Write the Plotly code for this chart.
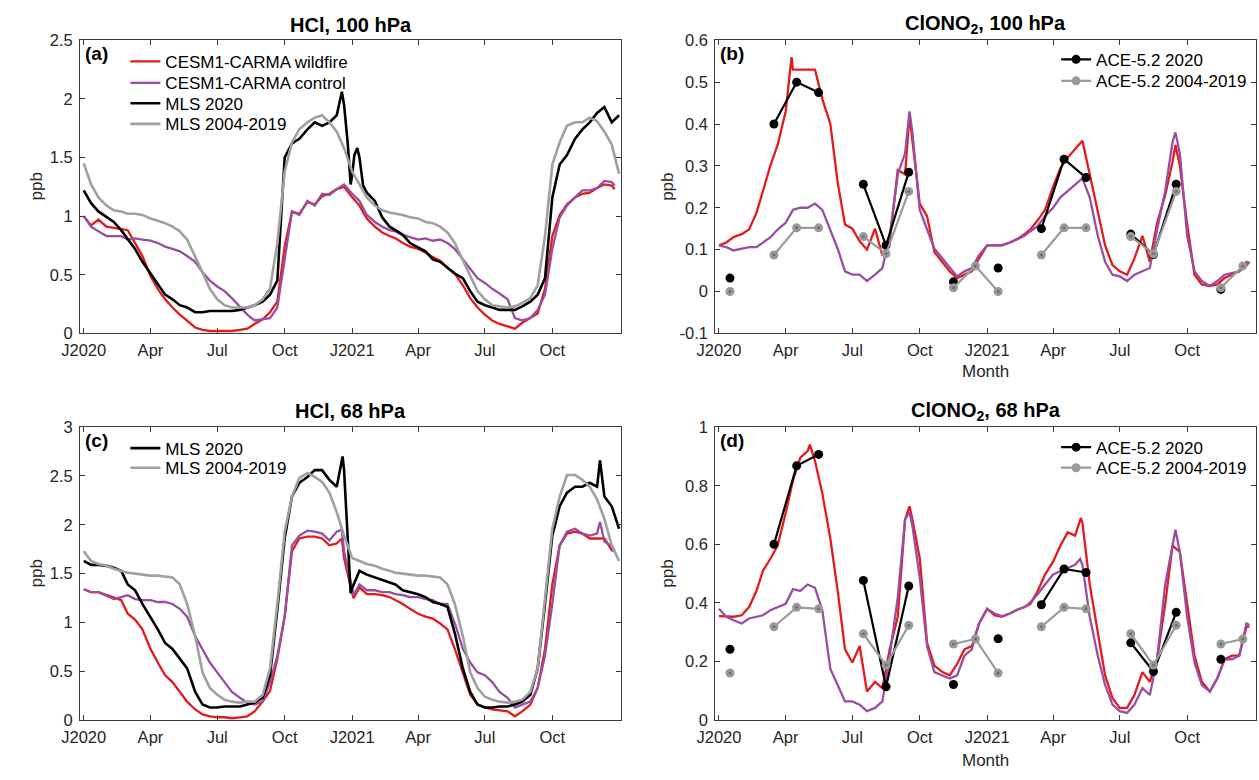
import plotly.graph_objects as go

W, H = 1259, 780

# Sampling dates: 1st, 11th and 21st of every month, 2020-2021
GRID = [f"{y}-{m:02d}-{d:02d}" for y in (2020, 2021) for m in range(1, 13) for d in (1, 11, 21)]
MODEL_DATES = GRID + ["2021-12-25"]
MLS_DATES = GRID + ["2021-12-31"]
ACE_DATES = [f"{y}-{m:02d}-16" for y in (2020, 2021) for m in range(1, 13)]

TICK_DATES = ["2020-01-01", "2020-04-01", "2020-07-01", "2020-10-01",
              "2021-01-01", "2021-04-01", "2021-07-01", "2021-10-01"]
TICK_TEXT = ["J2020", "Apr", "Jul", "Oct", "J2021", "Apr", "Jul", "Oct"]

# ---------------- HCl, 100 hPa (ppb) ----------------
HCL100_WILDFIRE = [
    1.00, 0.92, 0.97, 0.91, 0.90, 0.89, 0.88, 0.77, 0.66, 0.49, 0.38, 0.29,
    0.22, 0.16, 0.11, 0.05, 0.03, 0.02, 0.02, 0.02, 0.02, 0.03, 0.04, 0.08,
    0.12, 0.18, 0.27, 0.74, 1.04, 1.02, 1.12, 1.10, 1.17, 1.19, 1.23, 1.25,
    1.16, 1.09, 0.98, 0.91, 0.86, 0.83, 0.81, 0.77, 0.74, 0.72, 0.69, 0.65,
    0.62, 0.56, 0.51, 0.41, 0.30, 0.22, 0.16, 0.11, 0.08, 0.06, 0.04, 0.09,
    0.13, 0.17, 0.38, 0.83, 1.01, 1.10, 1.16, 1.19, 1.20, 1.24, 1.27, 1.26,
    1.23]
HCL100_CONTROL = [
    1.00, 0.91, 0.87, 0.83, 0.83, 0.83, 0.80, 0.81, 0.80, 0.79, 0.77, 0.74,
    0.72, 0.70, 0.66, 0.61, 0.52, 0.45, 0.40, 0.36, 0.30, 0.23, 0.16, 0.11,
    0.12, 0.13, 0.22, 0.61, 1.04, 1.01, 1.13, 1.09, 1.19, 1.18, 1.23, 1.27,
    1.19, 1.13, 1.01, 0.95, 0.91, 0.88, 0.87, 0.84, 0.82, 0.80, 0.81, 0.79,
    0.80, 0.77, 0.72, 0.63, 0.55, 0.47, 0.43, 0.38, 0.34, 0.29, 0.13, 0.11,
    0.13, 0.20, 0.33, 0.72, 0.99, 1.09, 1.16, 1.22, 1.22, 1.24, 1.30, 1.29,
    1.26]
HCL100_MLS2020 = [
    1.22, 1.11, 1.04, 0.99, 0.95, 0.88, 0.80, 0.72, 0.61, 0.51, 0.41, 0.33,
    0.29, 0.24, 0.22, 0.18, 0.18, 0.19, 0.19, 0.19, 0.19, 0.20, 0.22, 0.24,
    0.27, 0.33, 0.45, 1.50, 1.62, 1.66, 1.74, 1.80, 1.77, 1.80, 1.86, 1.95,
    1.35, 1.50, 1.20, 1.13, 0.99, 0.91, 0.88, 0.84, 0.77, 0.73, 0.70, 0.63,
    0.61, 0.56, 0.51, 0.47, 0.36, 0.27, 0.24, 0.22, 0.20, 0.20, 0.20, 0.23,
    0.27, 0.33, 0.47, 1.16, 1.44, 1.52, 1.66, 1.74, 1.80, 1.88, 1.93, 1.80,
    1.86]
HCL100_MLS2020_EXTRA = {"2020-12-18": 2.06, "2020-12-26": 1.62, "2020-12-30": 1.27,
                        "2021-01-04": 1.52, "2021-01-08": 1.58, "2021-01-16": 1.26}
HCL100_MLSCLIM = [
    1.45, 1.27, 1.16, 1.09, 1.05, 1.04, 1.02, 1.02, 1.01, 0.98, 0.96, 0.94,
    0.91, 0.87, 0.80, 0.66, 0.52, 0.38, 0.29, 0.24, 0.22, 0.22, 0.22, 0.24,
    0.29, 0.38, 0.77, 1.38, 1.63, 1.74, 1.80, 1.84, 1.86, 1.80, 1.72, 1.58,
    1.38, 1.27, 1.16, 1.09, 1.05, 1.03, 1.02, 1.01, 0.99, 0.98, 0.95, 0.94,
    0.91, 0.86, 0.77, 0.63, 0.49, 0.36, 0.29, 0.24, 0.23, 0.22, 0.23, 0.26,
    0.30, 0.41, 0.83, 1.44, 1.63, 1.77, 1.80, 1.80, 1.84, 1.81, 1.72, 1.61,
    1.36]

# ---------------- ClONO2, 100 hPa (ppb) ----------------
CLONO2_100_WILDFIRE = [
    0.110, 0.117, 0.130, 0.137, 0.148, 0.187, 0.240, 0.300, 0.350, 0.430, 0.530, 0.530,
    0.530, 0.530, 0.460, 0.400, 0.260, 0.160, 0.150, 0.120, 0.100, 0.150, 0.086, 0.120,
    0.290, 0.280, 0.360, 0.210, 0.180, 0.094, 0.070, 0.048, 0.032, 0.040, 0.048, 0.079,
    0.110, 0.110, 0.110, 0.117, 0.125, 0.137, 0.148, 0.170, 0.195, 0.250, 0.295, 0.320,
    0.340, 0.360, 0.280, 0.195, 0.110, 0.063, 0.048, 0.040, 0.079, 0.133, 0.071, 0.164,
    0.230, 0.310, 0.300, 0.160, 0.040, 0.017, 0.013, 0.017, 0.032, 0.040, 0.048, 0.063,
    0.071]
CLONO2_100_WILDFIRE_EXTRA = {"2020-04-09": 0.56, "2020-09-17": 0.42, "2021-09-15": 0.35}
CLONO2_100_CONTROL = [
    0.110, 0.106, 0.098, 0.102, 0.106, 0.106, 0.117, 0.129, 0.148, 0.164, 0.195, 0.200,
    0.200, 0.210, 0.195, 0.148, 0.102, 0.048, 0.040, 0.040, 0.025, 0.040, 0.056, 0.133,
    0.280, 0.330, 0.380, 0.195, 0.148, 0.102, 0.079, 0.056, 0.036, 0.048, 0.056, 0.087,
    0.110, 0.110, 0.110, 0.117, 0.125, 0.133, 0.144, 0.156, 0.180, 0.200, 0.225, 0.240,
    0.256, 0.270, 0.225, 0.133, 0.071, 0.040, 0.036, 0.025, 0.040, 0.048, 0.056, 0.148,
    0.240, 0.357, 0.330, 0.133, 0.048, 0.025, 0.013, 0.025, 0.040, 0.044, 0.048, 0.071,
    0.067]
CLONO2_100_CONTROL_EXTRA = {"2020-09-17": 0.43, "2021-09-15": 0.38}
CLONO2_100_ACE2020 = [0.032, None, 0.400, 0.500, 0.475, None, 0.256, 0.110, 0.285, None, 0.023, None,
                      0.056, None, 0.150, 0.316, 0.272, None, 0.137, 0.088, 0.256, None, 0.005, None]
CLONO2_100_ACECLIM = [0.000, None, 0.087, 0.152, 0.152, None, 0.131, 0.090, 0.239, None, 0.009, 0.061,
                      0.000, None, 0.087, 0.152, 0.152, None, 0.131, 0.090, 0.239, None, 0.009, 0.061]

# ---------------- HCl, 68 hPa (ppb) ----------------
HCL68_WILDFIRE = [
    1.34, 1.31, 1.31, 1.28, 1.26, 1.23, 1.09, 1.03, 0.93, 0.73, 0.59, 0.46,
    0.39, 0.29, 0.19, 0.11, 0.06, 0.04, 0.03, 0.03, 0.02, 0.03, 0.04, 0.09,
    0.19, 0.30, 0.63, 1.06, 1.73, 1.86, 1.88, 1.88, 1.86, 1.79, 1.81, 1.66,
    1.30, 1.36, 1.29, 1.29, 1.28, 1.26, 1.23, 1.19, 1.14, 1.09, 1.06, 1.04,
    0.99, 0.93, 0.73, 0.49, 0.26, 0.16, 0.13, 0.11, 0.10, 0.09, 0.04, 0.09,
    0.16, 0.33, 0.73, 1.39, 1.79, 1.91, 1.93, 1.91, 1.86, 1.86, 1.86, 1.74,
    1.73]
HCL68_WILDFIRE_EXTRA = {"2020-12-18": 1.86, "2021-01-03": 1.25}
HCL68_CONTROL = [
    1.34, 1.31, 1.31, 1.27, 1.24, 1.26, 1.28, 1.24, 1.23, 1.23, 1.21, 1.21,
    1.19, 1.14, 1.06, 0.86, 0.73, 0.59, 0.49, 0.39, 0.29, 0.23, 0.18, 0.16,
    0.19, 0.39, 0.66, 1.06, 1.79, 1.89, 1.94, 1.93, 1.91, 1.84, 1.93, 1.73,
    1.35, 1.39, 1.33, 1.33, 1.31, 1.31, 1.29, 1.28, 1.26, 1.26, 1.24, 1.23,
    1.19, 1.19, 0.99, 0.73, 0.59, 0.49, 0.46, 0.39, 0.29, 0.23, 0.13, 0.16,
    0.19, 0.33, 0.66, 1.19, 1.79, 1.93, 1.96, 1.91, 1.89, 1.91, 1.83, 1.78,
    1.74]
HCL68_CONTROL_EXTRA = {"2020-12-18": 1.95, "2021-01-03": 1.28, "2021-12-05": 2.03}
HCL68_MLS2020 = [
    1.63, 1.59, 1.59, 1.58, 1.56, 1.53, 1.39, 1.33, 1.19, 1.06, 0.93, 0.79,
    0.73, 0.63, 0.53, 0.29, 0.16, 0.13, 0.13, 0.14, 0.14, 0.14, 0.16, 0.18,
    0.23, 0.46, 1.13, 1.86, 2.29, 2.43, 2.49, 2.56, 2.56, 2.46, 2.39, 2.56,
    1.35, 1.53, 1.49, 1.46, 1.44, 1.41, 1.39, 1.33, 1.31, 1.29, 1.26, 1.21,
    1.19, 1.16, 0.89, 0.53, 0.29, 0.16, 0.13, 0.13, 0.14, 0.14, 0.16, 0.19,
    0.26, 0.53, 1.19, 1.89, 2.19, 2.33, 2.39, 2.39, 2.43, 2.39, 2.29, 2.19,
    1.96]
HCL68_MLS2020_EXTRA = {"2020-12-19": 2.70, "2020-12-25": 1.95, "2020-12-30": 1.30,
                       "2021-12-05": 2.66}
HCL68_MLSCLIM = [
    1.73, 1.63, 1.60, 1.58, 1.55, 1.53, 1.51, 1.50, 1.49, 1.48, 1.48, 1.47,
    1.46, 1.39, 1.19, 0.86, 0.49, 0.33, 0.26, 0.21, 0.19, 0.18, 0.19, 0.19,
    0.26, 0.53, 1.19, 1.93, 2.29, 2.48, 2.53, 2.49, 2.44, 2.33, 2.13, 1.89,
    1.66, 1.63, 1.60, 1.58, 1.55, 1.53, 1.51, 1.50, 1.49, 1.48, 1.48, 1.47,
    1.46, 1.39, 1.19, 0.86, 0.49, 0.33, 0.24, 0.21, 0.19, 0.18, 0.19, 0.21,
    0.29, 0.53, 1.23, 1.96, 2.29, 2.51, 2.51, 2.46, 2.39, 2.26, 2.06, 1.79,
    1.63]

# ---------------- ClONO2, 68 hPa (ppb) ----------------
CLONO2_68_WILDFIRE = [
    0.355, 0.355, 0.353, 0.358, 0.386, 0.440, 0.510, 0.550, 0.596, 0.707, 0.818, 0.896,
    0.918, 0.885, 0.774, 0.619, 0.441, 0.242, 0.197, 0.253, 0.098, 0.131, 0.109, 0.242,
    0.353, 0.685, 0.685, 0.552, 0.264, 0.186, 0.164, 0.153, 0.192, 0.242, 0.253, 0.330,
    0.380, 0.358, 0.353, 0.364, 0.377, 0.386, 0.397, 0.441, 0.497, 0.541, 0.596, 0.641,
    0.630, 0.674, 0.463, 0.297, 0.153, 0.075, 0.042, 0.042, 0.086, 0.164, 0.131, 0.208,
    0.397, 0.596, 0.574, 0.397, 0.220, 0.131, 0.098, 0.142, 0.208, 0.220, 0.220, 0.319,
    0.319]
CLONO2_68_WILDFIRE_EXTRA = {"2020-05-04": 0.94, "2020-09-17": 0.73, "2021-05-09": 0.69}
CLONO2_68_CONTROL = [
    0.380, 0.353, 0.341, 0.330, 0.347, 0.353, 0.358, 0.375, 0.386, 0.397, 0.447, 0.441,
    0.463, 0.452, 0.375, 0.175, 0.120, 0.064, 0.064, 0.053, 0.031, 0.042, 0.064, 0.220,
    0.419, 0.685, 0.663, 0.486, 0.253, 0.164, 0.153, 0.142, 0.153, 0.220, 0.242, 0.330,
    0.380, 0.364, 0.355, 0.364, 0.377, 0.386, 0.402, 0.430, 0.463, 0.497, 0.508, 0.519,
    0.530, 0.530, 0.353, 0.220, 0.120, 0.053, 0.031, 0.025, 0.053, 0.109, 0.086, 0.208,
    0.463, 0.596, 0.574, 0.353, 0.197, 0.120, 0.098, 0.142, 0.208, 0.208, 0.220, 0.330,
    0.325]
CLONO2_68_CONTROL_EXTRA = {"2020-09-17": 0.71, "2021-05-08": 0.55, "2021-09-15": 0.65}
CLONO2_68_ACE2020 = [0.242, None, 0.600, 0.868, 0.907, None, 0.477, 0.114, 0.458, None, 0.122, None,
                     0.278, None, 0.394, 0.516, 0.504, None, 0.264, 0.166, 0.368, None, 0.208, None]
CLONO2_68_ACECLIM = [0.161, None, 0.319, 0.385, 0.380, None, 0.295, 0.188, 0.324, None, 0.260, 0.277,
                     0.161, None, 0.319, 0.385, 0.380, None, 0.295, 0.188, 0.324, None, 0.260, 0.277]

# ---------------- styling ----------------
FONT = "Liberation Sans, Arial, Helvetica, sans-serif"
RED, PURPLE, BLACK, GREY, ACE_GREY = "#E41A1C", "#984EA3", "#000000", "#A0A0A0", "#9A9A9A"
AXC = "#3a3a3a"
TXT = "#262626"
TICK_SIZE, LEGEND_SIZE, TITLE_SIZE, LABEL_SIZE = 16.5, 17, 20, 17
MODEL_W, MLS_W, ACE_W = 2.3, 2.6, 2.2


def px(x):
    return x / W


def py(y):
    return 1 - y / H


def merge(dates, values, extra=None):
    pts = list(zip(dates, values)) + list((extra or {}).items())
    pts.sort(key=lambda p: p[0])
    return [p[0] for p in pts], [p[1] for p in pts]


# axes frames in pixels: left, right, top, bottom
FRAMES = {
    "a": (62, 611.5, 32, 332),
    "b": (707, 1256, 32, 332),
    "c": (62, 611.5, 428, 728),
    "d": (707, 1256, 428, 728),
}
AX_ID = {"a": ("x", "y"), "b": ("x2", "y2"), "c": ("x3", "y3"), "d": ("x4", "y4")}

# one legend box per entry so each row sits at its own height (x of box, y of row centre)
LEGEND_POS = {
    "legend": (108, 54), "legend2": (108, 76), "legend3": (108, 97), "legend4": (108, 118),
    "legend5": (108, 450), "legend6": (108, 470),
    "legend7": (1053, 52), "legend8": (1053, 74),
    "legend9": (1053, 449), "legend10": (1053, 470),
}

fig = go.Figure()


def line(panel, dates, vals, color, name, legend=None, width=MODEL_W, extra=None):
    xs, ys = merge(dates, vals, extra)
    xa, ya = AX_ID[panel]
    fig.add_trace(go.Scatter(
        x=xs, y=ys, mode="lines", name=name, xaxis=xa, yaxis=ya,
        line=dict(color=color, width=width),
        showlegend=legend is not None, legend=legend or "legend",
        hoverinfo="skip"))


def ace(panel, vals, color, name, legend):
    xa, ya = AX_ID[panel]
    fig.add_trace(go.Scatter(
        x=ACE_DATES, y=vals, mode="lines+markers", name=name, xaxis=xa, yaxis=ya,
        line=dict(color=color, width=ACE_W), marker=dict(color=color, size=9),
        connectgaps=False, legend=legend, hoverinfo="skip"))


def ace_centres(panel, vals):
    xa, ya = AX_ID[panel]
    fig.add_trace(go.Scatter(
        x=ACE_DATES, y=vals, mode="markers", xaxis=xa, yaxis=ya,
        marker=dict(color="#6e6e6e", size=3), showlegend=False, hoverinfo="skip"))


# (a) HCl 100 hPa
line("a", MODEL_DATES, HCL100_WILDFIRE, RED, "CESM1-CARMA wildfire", "legend")
line("a", MODEL_DATES, HCL100_CONTROL, PURPLE, "CESM1-CARMA control", "legend2")
line("a", MLS_DATES, HCL100_MLS2020, BLACK, "MLS 2020", "legend3", MLS_W, HCL100_MLS2020_EXTRA)
line("a", MLS_DATES, HCL100_MLSCLIM, GREY, "MLS 2004-2019", "legend4", MLS_W)

# (b) ClONO2 100 hPa
line("b", MODEL_DATES, CLONO2_100_WILDFIRE, RED, "CESM1-CARMA wildfire", extra=CLONO2_100_WILDFIRE_EXTRA)
line("b", MODEL_DATES, CLONO2_100_CONTROL, PURPLE, "CESM1-CARMA control", extra=CLONO2_100_CONTROL_EXTRA)
ace("b", CLONO2_100_ACE2020, BLACK, "ACE-5.2 2020", "legend7")
ace("b", CLONO2_100_ACECLIM, ACE_GREY, "ACE-5.2 2004-2019", "legend8")
ace_centres("b", CLONO2_100_ACECLIM)

# (c) HCl 68 hPa
line("c", MODEL_DATES, HCL68_WILDFIRE, RED, "CESM1-CARMA wildfire", extra=HCL68_WILDFIRE_EXTRA)
line("c", MODEL_DATES, HCL68_CONTROL, PURPLE, "CESM1-CARMA control", extra=HCL68_CONTROL_EXTRA)
line("c", MLS_DATES, HCL68_MLS2020, BLACK, "MLS 2020", "legend5", MLS_W, HCL68_MLS2020_EXTRA)
line("c", MLS_DATES, HCL68_MLSCLIM, GREY, "MLS 2004-2019", "legend6", MLS_W)

# (d) ClONO2 68 hPa
line("d", MODEL_DATES, CLONO2_68_WILDFIRE, RED, "CESM1-CARMA wildfire", extra=CLONO2_68_WILDFIRE_EXTRA)
line("d", MODEL_DATES, CLONO2_68_CONTROL, PURPLE, "CESM1-CARMA control", extra=CLONO2_68_CONTROL_EXTRA)
ace("d", CLONO2_68_ACE2020, BLACK, "ACE-5.2 2020", "legend9")
ace("d", CLONO2_68_ACECLIM, ACE_GREY, "ACE-5.2 2004-2019", "legend10")
ace_centres("d", CLONO2_68_ACECLIM)

TICKFONT = dict(family=FONT, size=TICK_SIZE, color=TXT)

Y_TICKS = {
    "a": ([0, 0.5, 1, 1.5, 2, 2.5], ["0", "0.5", "1", "1.5", "2", "2.5"], [0, 2.5]),
    "b": ([-0.1, 0, 0.1, 0.2, 0.3, 0.4, 0.5, 0.6],
          ["-0.1", "0", "0.1", "0.2", "0.3", "0.4", "0.5", "0.6"], [-0.1, 0.6]),
    "c": ([0, 0.5, 1, 1.5, 2, 2.5, 3], ["0", "0.5", "1", "1.5", "2", "2.5", "3"], [0, 3]),
    "d": ([0, 0.2, 0.4, 0.6, 0.8, 1], ["0", "0.2", "0.4", "0.6", "0.8", "1"], [0, 1]),
}

layout_axes = {}
for p, (l, r, t, b) in FRAMES.items():
    xa, ya = AX_ID[p]
    xkey = "xaxis" if xa == "x" else "xaxis" + xa[1:]
    ykey = "yaxis" if ya == "y" else "yaxis" + ya[1:]
    common = dict(showline=True, linecolor=AXC, linewidth=1, mirror="ticks",
                  ticks="inside", ticklen=5, tickwidth=1, tickcolor=AXC,
                  showgrid=False, zeroline=False, tickfont=TICKFONT)
    layout_axes[xkey] = dict(common, domain=[px(l), px(r)], anchor=ya, type="date",
                             range=["2019-12-27", "2022-01-03"],
                             tickmode="array", tickvals=TICK_DATES, ticktext=TICK_TEXT,
                             ticklabelstandoff=2)
    tv, tt, rng = Y_TICKS[p]
    layout_axes[ykey] = dict(common, domain=[py(b), py(t)], anchor=xa, range=rng,
                             tickmode="array", tickvals=tv, ticktext=tt,
                             ticklabelstandoff=3)

annotations = []


def text(x, y, s, size=16, bold=False, angle=0, xanchor="center"):
    annotations.append(dict(
        x=px(x), y=py(y), xref="paper", yref="paper", text=f"<b>{s}</b>" if bold else s,
        showarrow=False, textangle=angle, xanchor=xanchor, yanchor="middle",
        font=dict(family=FONT, size=size, color="#000" if bold else TXT)))


TITLES = {"a": "HCl, 100 hPa", "b": "ClONO<sub>2</sub>, 100 hPa",
          "c": "HCl, 68 hPa", "d": "ClONO<sub>2</sub>, 68 hPa"}
for p, (l, r, t, b) in FRAMES.items():
    text((l + r) / 2, t - 16, TITLES[p], size=TITLE_SIZE, bold=True)
    text(l + 3, t + 14, f"({p})", size=19, bold=True, xanchor="left")
    text(l - 44 if p in "ac" else l - 48, (t + b) / 2, "ppb", size=LABEL_SIZE, angle=-90)
text((707 + 1256) / 2, 371, "Month", size=LABEL_SIZE)
text((707 + 1256) / 2, 769, "Month", size=LABEL_SIZE)

LEG = dict(bgcolor="rgba(0,0,0,0)", borderwidth=0, xanchor="left", yanchor="middle",
           font=dict(family=FONT, size=LEGEND_SIZE, color="#000"), tracegroupgap=0,
           itemwidth=30, itemclick=False, itemdoubleclick=False)
legends = {k: dict(LEG, x=px(xp), y=py(yp)) for k, (xp, yp) in LEGEND_POS.items()}

fig.update_layout(
    width=W, height=H, autosize=False,
    margin=dict(l=0, r=0, t=0, b=0),
    paper_bgcolor="white", plot_bgcolor="white",
    showlegend=True,
    annotations=annotations,
    **legends,
    **layout_axes,
)

fig.write_html("out.html")
